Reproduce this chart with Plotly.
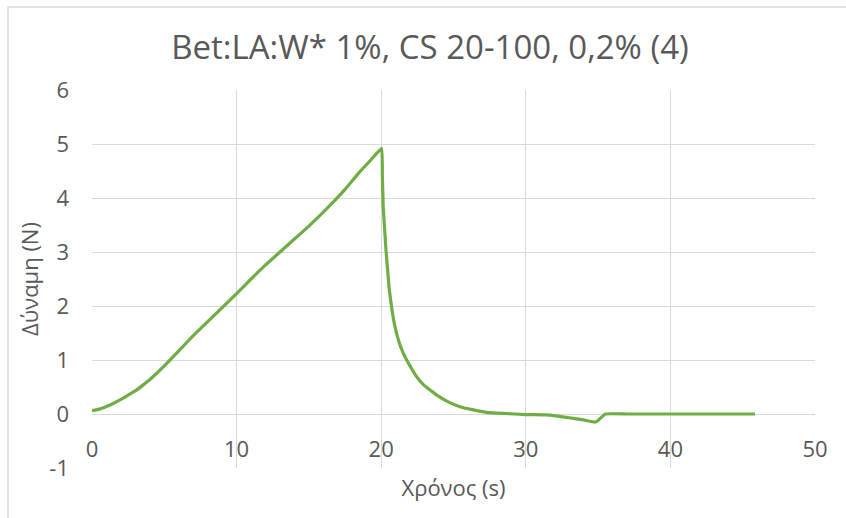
import plotly.graph_objects as go

# Force vs time measurement
time_s = [0, 0.5, 1, 1.5, 2, 2.5, 3, 3.5, 4, 4.5, 5, 6, 7, 8, 9, 10, 11, 12, 13, 14, 15,
          16, 16.7, 17.5, 18.5, 19.3, 20.03,
          20.08, 20.14, 20.33, 20.56, 20.75, 20.95, 21.2, 21.5, 21.8, 22.1, 22.45, 22.9,
          23.4, 23.9, 24.6, 25.4, 26.3, 27.3, 28.5, 30.0, 31.7, 33.0, 34.0, 34.8,
          35.0, 35.5, 37, 39, 41, 43, 45.85]
force_n = [0.06, 0.09, 0.14, 0.20, 0.27, 0.35, 0.43, 0.53, 0.64, 0.76, 0.89, 1.17, 1.45, 1.71, 1.97, 2.23, 2.50, 2.76, 3.00, 3.24, 3.48,
           3.74, 3.93, 4.16, 4.48, 4.71, 4.92,
           4.40, 3.84, 3.04, 2.30, 1.92, 1.62, 1.36, 1.14, 0.98, 0.84, 0.69, 0.55,
           0.44, 0.34, 0.23, 0.14, 0.08, 0.03, 0.01, -0.01, -0.02, -0.07, -0.11, -0.15,
           -0.12, 0.0, 0.0, 0.0, 0.0, 0.0, 0.0]

x_ticks = [0, 10, 20, 30, 40, 50]
x_tick_labels = ["0", "10", "20", "30", "40", "50"]
y_ticks = [-1, 0, 1, 2, 3, 4, 5, 6]
y_tick_labels = ["-1", "0", "1", "2", "3", "4", "5", "6"]

title_text = "Bet:LA:W* 1%, CS 20-100, 0,2% (4)"
x_title = "Χρόνος (s)"
y_title = "Δύναμη (N)"

font_family = "Open Sans"
text_color = "#595959"
grid_color = "#D9D9D9"

fig = go.Figure()
fig.add_trace(go.Scatter(
    x=time_s, y=force_n, mode="lines",
    line=dict(color="#70AD47", width=3.2, shape="spline", smoothing=0.3),
    showlegend=False, hoverinfo="x+y",
))

y_min, y_max = -1, 6

fig.update_layout(
    width=846, height=518,
    margin=dict(l=92, r=31, t=90, b=50),
    paper_bgcolor="white", plot_bgcolor="white",
    font=dict(family=font_family, color=text_color),
    title=dict(text=title_text, x=430 / 846, xanchor="center", y=1 - 47 / 518, yanchor="middle",
               font=dict(size=33, color=text_color, family=font_family)),
    xaxis=dict(
        range=[0, 50], tickvals=x_ticks, ticktext=x_tick_labels,
        showgrid=True, gridcolor=grid_color, gridwidth=1.3,
        zeroline=False, showline=False, ticks="",
        anchor="free", position=(0 - y_min) / (y_max - y_min),
        ticklabelstandoff=20,
        tickfont=dict(size=22, color=text_color),
        title=dict(text=x_title, font=dict(size=22, color=text_color), standoff=18),
    ),
    yaxis=dict(
        range=[y_min, y_max], tickvals=y_ticks, ticktext=y_tick_labels,
        showgrid=True, gridcolor=grid_color, gridwidth=1.3,
        zeroline=False, showline=False, ticks="",
        ticklabelstandoff=22,
        tickfont=dict(size=22, color=text_color),
        title=dict(text=y_title, font=dict(size=22, color=text_color), standoff=4),
    ),
)

# chart area frame
pw, ph = 846 - 92 - 31, 518 - 90 - 50
fig.add_shape(type="rect", xref="paper", yref="paper",
              x0=(8 - 92) / pw, x1=2.0, y0=-2.0, y1=(468 - 7) / ph,
              line=dict(color=grid_color, width=1.3), layer="below")

fig.write_html("out.html")
